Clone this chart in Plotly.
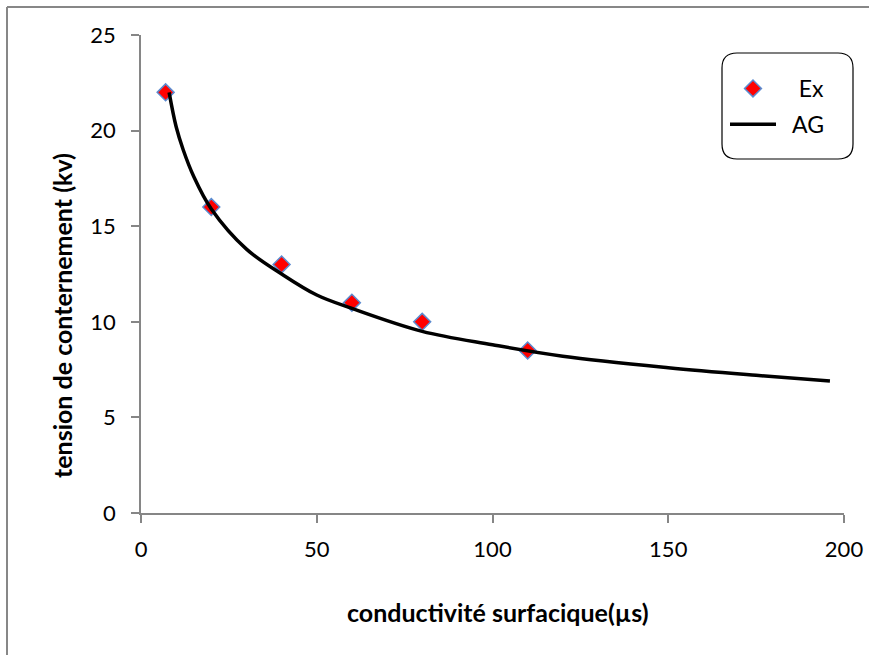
import plotly.graph_objects as go

# Experimental points (Ex)
ex_x = [7, 20, 40, 60, 80, 110]
ex_y = [22, 16, 13, 11, 10, 8.5]

# Curve AG
ag_x = [8, 10, 12, 15, 20, 30, 40, 50, 60, 80, 100, 120, 150, 175, 196]
ag_y = [22.0, 20.2, 19.0, 17.6, 15.9, 13.8, 12.5, 11.4, 10.7, 9.5, 8.8, 8.2, 7.6, 7.2, 6.9]

x_ticks = [0, 50, 100, 150, 200]
y_ticks = [0, 5, 10, 15, 20, 25]

W, H = 869, 655
L, R, T, B = 141, 844, 35, 513

def px(p):
    return (p - L) / (R - L)

def py(p):
    return (B - p) / (B - T)

FONT = "Lato"
AXC = "#868686"
NB = "\u00a0"

fig = go.Figure()
fig.add_trace(go.Scatter(
    x=ex_x, y=ex_y, mode="markers", name=NB * 3 + "Ex", legendgroup="ex",
    marker=dict(symbol="diamond", size=13, color="red",
                line=dict(color="#5B8BD0", width=1.5)),
))
fig.add_trace(go.Scatter(
    x=ag_x, y=ag_y, mode="lines", name=NB * 2 + "AG", legendgroup="ag",
    line=dict(color="black", width=3.5, shape="spline", smoothing=1.0),
))

fig.update_layout(
    width=W, height=H,
    margin=dict(l=L, r=W - R, t=T, b=H - B, autoexpand=False),
    paper_bgcolor="white", plot_bgcolor="white",
    font=dict(family=FONT, size=22, color="black"),
    showlegend=True,
    legend=dict(
        x=px(725), y=py(67), xanchor="left", yanchor="top",
        bgcolor="rgba(0,0,0,0)", borderwidth=0,
        traceorder="grouped", tracegroupgap=3,
        font=dict(family=FONT, size=23),
        itemwidth=46,
    ),
    xaxis=dict(
        range=[0, 200], tickvals=x_ticks, showgrid=False, zeroline=False,
        showline=True, linecolor=AXC, linewidth=1.5,
        ticks="outside", ticklen=8, tickwidth=1.5, tickcolor=AXC,
        ticklabelstandoff=8, tickfont=dict(family=FONT, size=22),
    ),
    yaxis=dict(
        range=[0, 25], tickvals=y_ticks, showgrid=False, zeroline=False,
        showline=True, linecolor=AXC, linewidth=1.5,
        ticks="outside", ticklen=8, tickwidth=1.5, tickcolor=AXC,
        ticklabelstandoff=11, tickfont=dict(family=FONT, size=22),
    ),
    annotations=[
        dict(text="<b>conductivité surfacique(µs)</b>", xref="paper", yref="paper",
             x=px(498), y=py(612), xanchor="center", yanchor="middle",
             showarrow=False, font=dict(family=FONT, size=25)),
        dict(text="<b>tension de conternement (kv)</b>", xref="paper", yref="paper",
             x=px(62), y=py(316), xanchor="center", yanchor="middle", textangle=-90,
             showarrow=False, font=dict(family=FONT, size=25)),
    ],
    shapes=[
        # outer chart border (top and left visible)
        dict(type="line", xref="paper", yref="paper",
             x0=px(7), x1=px(880), y0=py(7), y1=py(7),
             line=dict(color="#878787", width=2)),
        dict(type="line", xref="paper", yref="paper",
             x0=px(7), x1=px(7), y0=py(7), y1=py(670),
             line=dict(color="#878787", width=2)),
        # legend rounded box
        dict(type="path", xref="paper", yref="paper",
             path=(f"M {px(737)},{py(53)} L {px(838)},{py(53)} "
                   f"Q {px(853)},{py(53)} {px(853)},{py(68)} "
                   f"L {px(853)},{py(144)} Q {px(853)},{py(159)} {px(838)},{py(159)} "
                   f"L {px(737)},{py(159)} Q {px(722)},{py(159)} {px(722)},{py(144)} "
                   f"L {px(722)},{py(68)} Q {px(722)},{py(53)} {px(737)},{py(53)} Z"),
             line=dict(color="black", width=1.2), fillcolor="rgba(0,0,0,0)"),
    ],
)

fig.write_html("out.html", config={"displayModeBar": False},
               post_script="document.body.style.margin='0';")
